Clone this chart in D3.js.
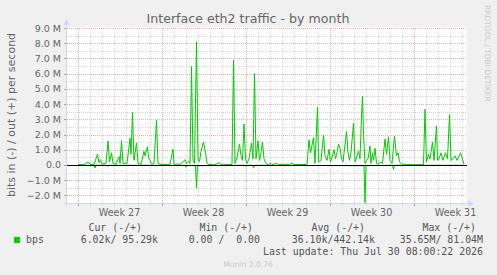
<!DOCTYPE html>
<html>
<head>
<meta charset="utf-8">
<script src="https://cdn.jsdelivr.net/npm/d3@7/dist/d3.min.js"></script>
<style>
  body { margin: 0; background: #f0f0f0; }
  svg { display: block; font-family: "DejaVu Sans", sans-serif; }
  .mono { font-family: "DejaVu Sans Mono", monospace; white-space: pre; }
</style>
</head>
<body>
<svg id="chart" width="497" height="275"></svg>
<script>
// out (+) traffic, Mbit/s
var outData = [
  ["06-28 01",0.03],["06-28 13",0.02],["06-28 21",0.2],["06-29 01",0.05],["06-29 09",0.02],
  ["06-29 16",0.72],["06-29 19",0.15],["06-29 22",0.35],["06-30 01",0.05],["06-30 09",0.1],
  ["06-30 13",1.58],["06-30 16",0.2],["06-30 20",0.8],["06-30 23",0.1],["07-01 05",0.05],
  ["07-01 11",0.55],["07-01 13",0.1],["07-01 16",1.6],["07-01 19",0.1],["07-02 03",0.1],
  ["07-02 09",1.75],["07-02 11",0.7],["07-02 14",3.44],["07-02 17",0.3],["07-02 22",1.45],
  ["07-03 01",0.1],["07-03 07",0.05],["07-03 13",0.9],["07-03 15",0.6],["07-03 20",1.2],
  ["07-03 22",0.5],["07-04 01",0.3],["07-04 04",0.05],["07-04 09",0.1],["07-04 14",2.96],
  ["07-04 17",0.1],["07-04 21",0.05],["07-05 07",0.03],["07-05 17",0.05],["07-05 23",1.03],
  ["07-06 01",0.05],["07-06 13",0.05],["07-06 19",0.2],["07-06 23",0.35],["07-07 02",0.1],
  ["07-07 06",0.25],["07-07 09",0.1],["07-07 12",6.47],["07-07 15",0.3],["07-07 18",0.1],
  ["07-07 22",8.1],["07-08 01",0.4],["07-08 04",0.2],["07-08 07",0.9],["07-08 12",1.5],
  ["07-08 16",0.8],["07-08 19",0.1],["07-08 23",0.03],["07-09 11",0.02],["07-09 20",0.15],
  ["07-09 22",0.02],["07-10 21",0.03],["07-11 00",6.9],["07-11 03",0.1],["07-11 07",0.5],
  ["07-11 12",1.38],["07-11 15",0.6],["07-11 18",0.3],["07-11 21",2.7],["07-12 00",0.4],
  ["07-12 03",0.1],["07-12 07",0.4],["07-12 12",1.45],["07-12 15",0.4],["07-12 18",6.0],
  ["07-12 21",0.4],["07-13 01",1.58],["07-13 04",0.3],["07-13 06",0.6],["07-13 10",1.5],
  ["07-13 13",0.4],["07-13 17",0.1],["07-13 21",0.02],["07-14 03",0.1],["07-14 05",0.03],
  ["07-14 15",0.1],["07-14 17",0.03],["07-15 17",0.05],["07-15 21",0.15],["07-15 23",0.03],
  ["07-17 03",0.03],["07-17 07",1.64],["07-17 10",0.8],["07-17 16",1.8],["07-17 19",0.1],
  ["07-18 00",3.8],["07-18 02",0.2],["07-18 07",0.3],["07-18 12",1.97],["07-18 15",0.6],
  ["07-18 19",0.3],["07-18 23",1.03],["07-19 02",0.2],["07-19 05",0.5],["07-19 09",1.0],
  ["07-19 12",0.4],["07-19 15",0.8],["07-19 18",1.38],["07-19 21",1.1],["07-20 00",0.4],
  ["07-20 03",0.2],["07-20 10",2.2],["07-20 13",0.8],["07-20 16",0.3],["07-20 19",0.8],
  ["07-21 00",2.74],["07-21 03",0.2],["07-21 07",0.6],["07-21 10",0.9],["07-21 13",0.4],
  ["07-21 16",3.3],["07-21 18",4.5],["07-21 20",2.0],["07-21 23",0.1],["07-22 02",0.3],
  ["07-22 05",0.4],["07-22 09",1.25],["07-22 11",0.1],["07-22 14",0.8],["07-22 16",0.3],
  ["07-22 19",1.1],["07-22 22",0.1],["07-23 01",0.05],["07-23 07",0.2],["07-23 10",0.1],
  ["07-23 15",1.7],["07-23 18",0.7],["07-23 22",1.85],["07-24 01",0.3],["07-24 05",0.1],
  ["07-24 10",1.9],["07-24 14",0.6],["07-24 17",0.8],["07-24 20",0.2],["07-25 01",0.05],
  ["07-25 17",0.02],["07-26 20",0.03],["07-26 23",3.66],["07-27 02",0.2],["07-27 06",0.7],
  ["07-27 09",0.4],["07-27 14",1.5],["07-27 17",0.3],["07-27 22",2.57],["07-28 00",0.3],
  ["07-28 03",0.4],["07-28 07",0.8],["07-28 11",0.3],["07-28 16",0.8],["07-28 20",0.4],
  ["07-29 00",3.3],["07-29 03",0.3],["07-29 07",0.4],["07-29 11",0.6],["07-29 15",0.3],
  ["07-29 22",0.8],["07-30 02",0.4],["07-30 05",0.05]
];

// in (-) traffic, Mbit/s, drawn below zero
var inData = [
  ["06-28 01",0.02],["06-29 09",0.02],["06-29 11",0.2],["06-29 13",0.02],["06-30 11",0.02],
  ["06-30 13",0.1],["06-30 15",0.02],["07-06 23",0.02],["07-07 01",0.15],["07-07 03",0.02],
  ["07-07 20",0.05],["07-07 22",1.53],["07-08 00",0.05],["07-11 23",0.02],["07-12 01",0.1],
  ["07-12 03",0.02],["07-12 14",0.02],["07-12 16",0.2],["07-12 18",0.02],["07-21 21",0.05],
  ["07-21 23",2.48],["07-22 01",0.05],["07-24 06",0.02],["07-24 08",0.3],["07-24 10",0.02],
  ["07-30 05",0.02]
];

var yTicks = [-2, -1, 0, 1, 2, 3, 4, 5, 6, 7, 8, 9];
var legendHeads = ["Cur (-/+)", "Min (-/+)", "Avg (-/+)", "Max (-/+)"];
var legendValues = ["6.02k/ 95.29k", "0.00 /  0.00", "36.10k/442.14k", "35.65M/ 81.04M"];
var seriesName = "bps";
var lastUpdate = "Last update: Thu Jul 30 08:00:22 2026";

var parse = d3.timeParse("%Y-%m-%d %H");
function rows(a) { return a.map(function(d) { return {t: parse("2026-" + d[0]), v: d[1]}; }); }
var outRows = rows(outData);
var inRows = rows(inData);

var plotL = 66.5, plotR = 466.5, plotT = 28, plotB = 203;
var t0 = new Date(2026, 5, 27, 2), t1 = new Date(2026, 6, 30, 10);

var x = d3.scaleTime().domain([t0, t1]).range([plotL, plotR]);
var y = d3.scaleLinear().domain([-2.5, 9]).range([plotB, plotT]);

var svg = d3.select("#chart");

svg.append("rect").attr("x", plotL).attr("y", plotT - 1)
  .attr("width", plotR - plotL).attr("height", plotB - plotT + 1).attr("fill", "#fff");

var grid = svg.append("g").attr("shape-rendering", "crispEdges");
function ry(v) { return Math.round(y(v)) + 0.5; }

// horizontal grid: minor every 0.5M, major every 1M
d3.range(-2.5, 9.01, 0.5).forEach(function(v) {
  var major = Math.abs(v - Math.round(v)) < 1e-6;
  grid.append("line").attr("x1", plotL).attr("x2", plotR)
    .attr("y1", ry(v)).attr("y2", ry(v))
    .attr("stroke", major ? "#e2b2b2" : "#d6d6d6")
    .attr("stroke-dasharray", "1,1");
});

// vertical grid: minor per day, major per week (Sunday)
var days = d3.timeDay.range(t0, t1);
var weeks = d3.timeSunday.range(t0, t1);
days.forEach(function(d) {
  var isWeek = d.getDay() === 0;
  var px = Math.round(x(d)) + 0.5;
  grid.append("line").attr("x1", px).attr("x2", px)
    .attr("y1", plotT).attr("y2", plotB)
    .attr("stroke", isWeek ? "#e2b2b2" : "#d6d6d6")
    .attr("stroke-dasharray", "1,1");
  grid.append("line").attr("x1", px).attr("x2", px)
    .attr("y1", plotB).attr("y2", plotB + (isWeek ? 3 : 2))
    .attr("stroke", isWeek ? "#d08a8a" : "#c8c8c8");
});
yTicks.forEach(function(v) {
  grid.append("line").attr("x1", plotL - 3).attr("x2", plotL)
    .attr("y1", ry(v)).attr("y2", ry(v))
    .attr("stroke", "#d08a8a");
});

// series
var line = d3.line().x(function(d) { return x(d.t); }).y(function(d) { return y(d.v); });
var lineIn = d3.line().x(function(d) { return x(d.t); }).y(function(d) { return y(-d.v); });

svg.append("path").datum(inRows).attr("d", lineIn)
  .attr("fill", "none").attr("stroke", "#00cc00").attr("stroke-width", 1);
svg.append("path").datum(outRows).attr("d", line)
  .attr("fill", "none").attr("stroke", "#00cc00").attr("stroke-width", 1);

// zero line
svg.append("line").attr("x1", plotL).attr("x2", plotR)
  .attr("y1", ry(0)).attr("y2", ry(0))
  .attr("stroke", "#000").attr("shape-rendering", "crispEdges");

// axes with arrows
var axisCol = "#cfd6f8";
svg.append("line").attr("x1", plotL).attr("x2", plotL).attr("y1", plotB + 3).attr("y2", 24)
  .attr("stroke", axisCol).attr("shape-rendering", "crispEdges");
svg.append("line").attr("x1", plotL - 3).attr("x2", 469).attr("y1", plotB + 0.5).attr("y2", plotB + 0.5)
  .attr("stroke", axisCol).attr("shape-rendering", "crispEdges");
svg.append("path").attr("d", "M" + (plotL - 3) + ",25L" + (plotL + 3) + ",25L" + plotL + ",19Z").attr("fill", axisCol);
svg.append("path").attr("d", "M468," + (plotB - 2.5) + "L468," + (plotB + 3.5) + "L474," + (plotB + 0.5) + "Z").attr("fill", axisCol);

// y labels
var fmt = function(v) { return v === 0 ? "0.0" : d3.format(".1f")(v) + " M"; };
svg.append("g").selectAll("text").data(yTicks).join("text")
  .attr("x", 61).attr("y", function(d) { return y(d) + 3.5; })
  .attr("text-anchor", "end").attr("font-size", "9.5px").attr("fill", "#666")
  .text(fmt);

// x labels
var wfmt = d3.timeFormat("%V");
svg.append("g").selectAll("text").data(weeks).join("text")
  .attr("x", function(d) { return x(d3.timeHour.offset(d, 84)); })
  .attr("y", 216).attr("text-anchor", "middle").attr("font-size", "9.6px").attr("fill", "#666")
  .text(function(d) { return "Week " + wfmt(d3.timeHour.offset(d, 84)); });

// title
svg.append("text").attr("x", 248).attr("y", 23).attr("text-anchor", "middle")
  .attr("font-size", "12.6px").attr("fill", "#666").text("Interface eth2 traffic - by month");

// y title
svg.append("text").attr("transform", "translate(15,115) rotate(-90)")
  .attr("text-anchor", "middle").attr("font-size", "11px").attr("fill", "#666")
  .text("bits in (-) / out (+) per second");

// watermark
svg.append("text").attr("transform", "translate(485,5) rotate(90)")
  .attr("font-size", "7.5px").attr("fill", "#c8c8c8")
  .text("RRDTOOL / TOBI OETIKER");

// legend
var headEnds = [142, 253, 365, 476];
var valEnds = [158, 260, 375, 483];
svg.append("g").selectAll("text").data(legendHeads).join("text")
  .attr("class", "mono").attr("x", function(d, i) { return headEnds[i]; }).attr("y", 231)
  .attr("text-anchor", "end").attr("font-size", "9.9px").attr("fill", "#555").text(function(d) { return d; });
svg.append("rect").attr("x", 14).attr("y", 237).attr("width", 6).attr("height", 6).attr("fill", "#00cc00");
svg.append("text").attr("class", "mono").attr("x", 26).attr("y", 243)
  .attr("font-size", "9.9px").attr("fill", "#555").text(seriesName);
svg.append("g").selectAll("text").data(legendValues).join("text")
  .attr("class", "mono").attr("x", function(d, i) { return valEnds[i]; }).attr("y", 243)
  .attr("text-anchor", "end").attr("font-size", "9.9px").attr("fill", "#555").text(function(d) { return d; });
svg.append("text").attr("class", "mono").attr("x", 483).attr("y", 255)
  .attr("text-anchor", "end").attr("font-size", "9.9px").attr("fill", "#555").text(lastUpdate);
svg.append("text").attr("x", 248).attr("y", 267).attr("text-anchor", "middle")
  .attr("font-size", "7.6px").attr("fill", "#c8c8c8").text("Munin 2.0.76");
</script>
</body>
</html>
